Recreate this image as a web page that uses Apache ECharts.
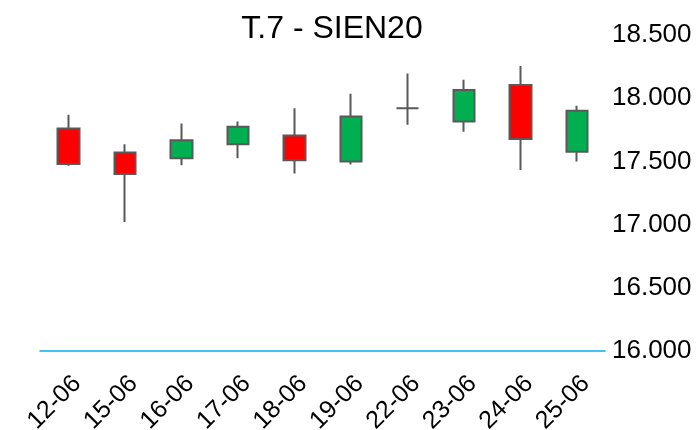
<!DOCTYPE html>
<html>
<head>
<meta charset="utf-8">
<script src="https://cdn.jsdelivr.net/npm/echarts@6/dist/echarts.min.js"></script>
<style>
html,body{margin:0;padding:0;background:#fff;}
#c{width:696px;height:430px;}
</style>
</head>
<body>
<div id="c"></div>
<script>
// Data
var titleText = 'T.7 - SIEN20';
var categories = ['12-06','15-06','16-06','17-06','18-06','19-06','22-06','23-06','24-06','25-06'];
var openVals  = [17760, 17570, 17525, 17635, 17705, 17500, 17920, 17815, 18105, 17577];
var closeVals = [17480, 17400, 17667, 17775, 17510, 17855, 17920, 18065, 17677, 17900];
var lowVals   = [17465, 17020, 17470, 17525, 17405, 17475, 17790, 17735, 17432, 17500];
var highVals  = [17870, 17635, 17800, 17815, 17920, 18035, 18195, 18145, 18255, 17940];
var yTicks = [16000, 16500, 17000, 17500, 18000, 18500];

var candleData = categories.map(function (c, i) {
  return [openVals[i], closeVals[i], lowVals[i], highVals[i]];
});

function fmt(v) {
  var th = Math.floor(v / 1000);
  var rest = String(Math.round(v % 1000));
  while (rest.length < 3) rest = '0' + rest;
  return th + '.' + rest;
}

var chart = echarts.init(document.getElementById('c'), null, {renderer: 'canvas'});
chart.setOption({
  animation: false,
  backgroundColor: '#ffffff',
  textStyle: {fontFamily: 'Liberation Sans, Arial, sans-serif'},
  title: {
    text: titleText,
    left: 327,
    top: 8,
    textAlign: 'center',
    textStyle: {fontSize: 32, fontWeight: 'normal', color: '#000', fontFamily: 'Liberation Sans, Arial, sans-serif'}
  },
  grid: {left: 40, right: 91, top: 35, bottom: 79, containLabel: false, outerBoundsMode: 'none'},
  xAxis: {
    type: 'category',
    data: categories,
    boundaryGap: true,
    axisLine: {show: true, lineStyle: {color: '#00B0F0', width: 1.5}},
    axisTick: {show: false},
    splitLine: {show: false},
    axisLabel: {
      interval: 0,
      rotate: 45,
      margin: 20,
      fontSize: 25,
      verticalAlign: 'top',
      color: '#000',
      fontFamily: 'Liberation Sans, Arial, sans-serif'
    }
  },
  yAxis: {
    type: 'value',
    position: 'right',
    min: yTicks[0],
    max: yTicks[yTicks.length - 1],
    interval: 500,
    scale: true,
    axisLine: {show: false},
    axisTick: {show: false},
    splitLine: {show: false},
    axisLabel: {
      margin: 7,
      fontSize: 26,
      color: '#000',
      fontFamily: 'Liberation Sans, Arial, sans-serif',
      formatter: function (v) { return fmt(v); }
    }
  },
  series: [{
    type: 'candlestick',
    data: candleData,
    barWidth: 22,
    itemStyle: {
      color: '#00B050',
      color0: '#FF0000',
      borderColor: '#595959',
      borderColor0: '#595959',
      borderColorDoji: '#595959',
      borderWidth: 2
    }
  }]
});
</script>
</body>
</html>
